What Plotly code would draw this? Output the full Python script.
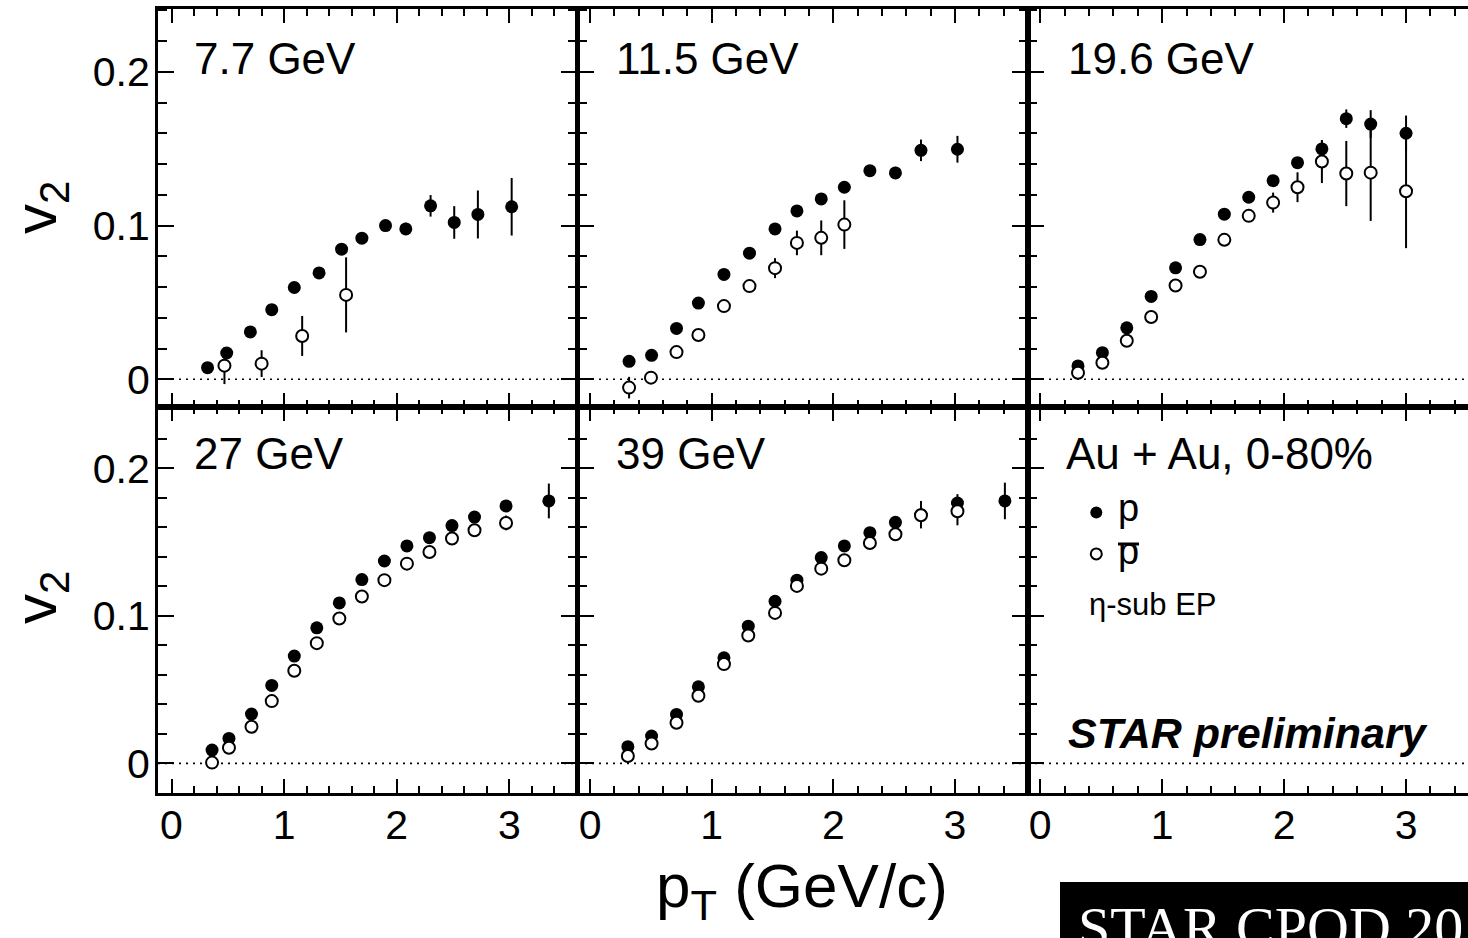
import plotly.graph_objects as go

W, H = 1468, 938
FONT = "Liberation Sans, Arial, Helvetica, sans-serif"

# ---- proton / antiproton v2(pT), Au+Au 0-80%, eta-sub event plane ----
panel_labels = ["7.7 GeV", "11.5 GeV", "19.6 GeV", "27 GeV", "39 GeV"]

pt_p_7 = [0.32, 0.49, 0.70, 0.89, 1.09, 1.31, 1.51, 1.69, 1.90, 2.08, 2.30, 2.51, 2.72, 3.02]
v2_p_7 = [0.0076, 0.0171, 0.0308, 0.0453, 0.0597, 0.0692, 0.0846, 0.0918, 0.1000, 0.0978, 0.1128, 0.1020, 0.1072, 0.1122]
er_p_7 = [0.002, 0.002, 0.002, 0.002, 0.002, 0.002, 0.002, 0.002, 0.003, 0.004, 0.007, 0.0106, 0.0156, 0.0187]
pt_pbar_7 = [0.47, 0.80, 1.16, 1.55]
v2_pbar_7 = [0.0089, 0.0102, 0.0282, 0.0549]
er_pbar_7 = [0.012, 0.0087, 0.013, 0.0244]

pt_p_11 = [0.32, 0.505, 0.71, 0.89, 1.10, 1.31, 1.52, 1.70, 1.90, 2.09, 2.30, 2.51, 2.72, 3.02]
v2_p_11 = [0.0117, 0.0156, 0.0331, 0.0496, 0.0682, 0.0820, 0.0978, 0.1095, 0.1173, 0.1249, 0.1357, 0.1342, 0.1489, 0.1496]
er_p_11 = [0.002, 0.002, 0.002, 0.002, 0.002, 0.002, 0.002, 0.002, 0.002, 0.003, 0.003, 0.004, 0.007, 0.0087]
pt_pbar_11 = [0.32, 0.50, 0.71, 0.89, 1.10, 1.31, 1.52, 1.70, 1.90, 2.09]
v2_pbar_11 = [-0.0054, 0.0011, 0.0177, 0.0288, 0.0476, 0.0606, 0.0723, 0.0887, 0.0920, 0.1006]
er_pbar_11 = [0.007, 0.003, 0.003, 0.003, 0.003, 0.003, 0.0065, 0.008, 0.0113, 0.0158]

pt_p_19 = [0.31, 0.51, 0.71, 0.91, 1.11, 1.31, 1.51, 1.71, 1.91, 2.11, 2.31, 2.51, 2.71, 3.00]
v2_p_19 = [0.0087, 0.0173, 0.0335, 0.0539, 0.0725, 0.0909, 0.1074, 0.1184, 0.1292, 0.1409, 0.1498, 0.1695, 0.1660, 0.1600]
er_p_19 = [0.002, 0.002, 0.002, 0.002, 0.002, 0.002, 0.002, 0.002, 0.002, 0.003, 0.0056, 0.006, 0.009, 0.0115]
pt_pbar_19 = [0.31, 0.51, 0.71, 0.91, 1.11, 1.31, 1.51, 1.71, 1.91, 2.11, 2.31, 2.51, 2.71, 3.00]
v2_pbar_19 = [0.0043, 0.0108, 0.0251, 0.0405, 0.0610, 0.0699, 0.0907, 0.1063, 0.1149, 0.1249, 0.1416, 0.1338, 0.1344, 0.1223]
er_pbar_19 = [0.002, 0.002, 0.002, 0.002, 0.002, 0.002, 0.002, 0.003, 0.0065, 0.0097, 0.014, 0.0212, 0.0314, 0.037]

pt_p_27 = [0.36, 0.51, 0.71, 0.89, 1.09, 1.29, 1.49, 1.69, 1.89, 2.09, 2.29, 2.49, 2.69, 2.97, 3.35]
v2_p_27 = [0.0090, 0.0169, 0.0334, 0.0528, 0.0727, 0.0919, 0.1088, 0.1246, 0.1372, 0.1474, 0.1530, 0.1612, 0.1670, 0.1745, 0.1779]
er_p_27 = [0.002, 0.002, 0.002, 0.002, 0.002, 0.002, 0.002, 0.002, 0.002, 0.002, 0.002, 0.002, 0.003, 0.003, 0.0118]
pt_pbar_27 = [0.36, 0.51, 0.71, 0.89, 1.09, 1.29, 1.49, 1.69, 1.89, 2.09, 2.29, 2.49, 2.69, 2.97]
v2_pbar_27 = [0.0005, 0.0106, 0.0248, 0.0422, 0.0628, 0.0815, 0.0982, 0.1131, 0.1242, 0.1354, 0.1433, 0.1524, 0.1580, 0.1630]
er_pbar_27 = [0.002, 0.002, 0.002, 0.002, 0.002, 0.002, 0.002, 0.002, 0.002, 0.002, 0.002, 0.003, 0.003, 0.005]

pt_p_39 = [0.31, 0.505, 0.71, 0.89, 1.10, 1.30, 1.52, 1.70, 1.90, 2.09, 2.30, 2.51, 2.72, 3.02, 3.41]
v2_p_39 = [0.0113, 0.0185, 0.0332, 0.0519, 0.0716, 0.0930, 0.1099, 0.1242, 0.1395, 0.1474, 0.1564, 0.1634, 0.1686, 0.1765, 0.1779]
er_p_39 = [0.002, 0.002, 0.002, 0.002, 0.002, 0.002, 0.002, 0.002, 0.002, 0.002, 0.003, 0.003, 0.0093, 0.006, 0.0124]
pt_pbar_39 = [0.31, 0.505, 0.71, 0.89, 1.10, 1.30, 1.52, 1.70, 1.90, 2.09, 2.30, 2.51, 2.72, 3.02]
v2_pbar_39 = [0.0050, 0.0135, 0.0275, 0.0458, 0.0673, 0.0867, 0.1020, 0.1203, 0.1320, 0.1377, 0.1494, 0.1553, 0.1682, 0.1709]
er_pbar_39 = [0.002, 0.002, 0.002, 0.002, 0.002, 0.002, 0.002, 0.002, 0.002, 0.002, 0.002, 0.003, 0.006, 0.0095]

x_ticks = [0, 1, 2, 3]
y_ticks = [0, 0.1, 0.2]
y_tick_text = ["0", "0.1", "0.2"]

datasets = [
    (pt_p_7, v2_p_7, er_p_7, pt_pbar_7, v2_pbar_7, er_pbar_7),
    (pt_p_11, v2_p_11, er_p_11, pt_pbar_11, v2_pbar_11, er_pbar_11),
    (pt_p_19, v2_p_19, er_p_19, pt_pbar_19, v2_pbar_19, er_pbar_19),
    (pt_p_27, v2_p_27, er_p_27, pt_pbar_27, v2_pbar_27, er_pbar_27),
    (pt_p_39, v2_p_39, er_p_39, pt_pbar_39, v2_pbar_39, er_pbar_39),
]

# ---- pad geometry (pixels) ----
col_px = [(158, 577), (578, 1028), (1028, 1468)]
row_px = [(9, 407), (407, 793)]
x_ranges = [[-0.12, 3.6], [-0.1, 3.6], [-0.1, 3.508]]
y_ranges = [[-0.018, 0.2408], [-0.0201, 0.2416]]


def px_x(p):
    return p / W


def px_y(p):
    return 1 - p / H


fig = go.Figure()
layout = dict(
    width=W, height=H,
    margin=dict(l=0, r=0, t=0, b=0),
    paper_bgcolor="white", plot_bgcolor="white",
    showlegend=False,
    font=dict(family=FONT, color="black"),
)

shapes = []
annotations = []

for k in range(6):
    r, c = divmod(k, 3)
    n = k + 1
    xa = "xaxis" if n == 1 else f"xaxis{n}"
    ya = "yaxis" if n == 1 else f"yaxis{n}"
    xref = "x" if n == 1 else f"x{n}"
    yref = "y" if n == 1 else f"y{n}"

    layout[xa] = dict(
        domain=[px_x(col_px[c][0]), px_x(col_px[c][1])],
        range=x_ranges[c], anchor=yref,
        showline=True, linewidth=3, linecolor="black", mirror="allticks",
        ticks="inside", ticklen=14, tickwidth=2, tickcolor="black",
        tickmode="array", tickvals=x_ticks, ticktext=[str(v) for v in x_ticks],
        showticklabels=(r == 1), tickfont=dict(size=41, family=FONT, color="black"),
        ticklabelstandoff=-6,
        minor=dict(ticks="inside", ticklen=7, tickwidth=2, tickcolor="black", dtick=0.2, tick0=0, showgrid=False),
        showgrid=False, zeroline=False, fixedrange=True,
    )
    layout[ya] = dict(
        domain=[px_y(row_px[r][1]), px_y(row_px[r][0])],
        range=y_ranges[r], anchor=xref,
        showline=True, linewidth=3, linecolor="black",
        mirror=("allticks" if c < 2 else False),
        ticks="inside", ticklen=16, tickwidth=2, tickcolor="black",
        tickmode="array", tickvals=y_ticks, ticktext=y_tick_text,
        showticklabels=(c == 0), tickfont=dict(size=41, family=FONT, color="black"),
        ticklabelstandoff=-3,
        minor=dict(ticks="inside", ticklen=9, tickwidth=2, tickcolor="black", dtick=0.02, tick0=0, showgrid=False),
        showgrid=False, zeroline=False, fixedrange=True,
    )

    # dotted zero reference line
    shapes.append(dict(
        type="line", xref=f"{xref} domain", yref=yref, x0=0, x1=1, y0=0, y1=0,
        line=dict(color="black", width=1.6, dash="2px,5px"), layer="below",
    ))

    if k < 5:
        pt_p, v2_p, er_p, pt_a, v2_a, er_a = datasets[k]
        fig.add_trace(go.Scatter(
            x=pt_p, y=v2_p, mode="markers", xaxis=xref, yaxis=yref,
            marker=dict(symbol="circle", size=13, color="black"),
            error_y=dict(type="data", array=er_p, visible=True, thickness=2, width=0, color="black"),
            cliponaxis=False,
        ))
        fig.add_trace(go.Scatter(
            x=pt_a, y=v2_a, mode="markers", xaxis=xref, yaxis=yref,
            marker=dict(symbol="circle", size=12, color="white", line=dict(color="black", width=2)),
            error_y=dict(type="data", array=er_a, visible=True, thickness=2, width=0, color="black"),
            cliponaxis=False,
        ))
        lx = [192, 614, 1066, 192, 614][k]
        ly = [58, 58, 58, 453, 453][k]
        annotations.append(dict(
            text=panel_labels[k], xref="paper", yref="paper", x=px_x(lx), y=px_y(ly),
            xanchor="left", yanchor="middle", showarrow=False,
            font=dict(size=44, family=FONT, color="black"),
        ))

# legend pad: collision system, marker key and method
annotations += [
    dict(text="Au + Au, 0-80%", xref="paper", yref="paper", x=px_x(1064), y=px_y(453),
         xanchor="left", yanchor="middle", showarrow=False, font=dict(size=44, family=FONT)),
    dict(text="p", xref="paper", yref="paper", x=px_x(1116), y=px_y(508),
         xanchor="left", yanchor="middle", showarrow=False, font=dict(size=38, family=FONT)),
    dict(text="p", xref="paper", yref="paper", x=px_x(1116), y=px_y(551),
         xanchor="left", yanchor="middle", showarrow=False, font=dict(size=38, family=FONT)),
    dict(text="η-sub EP", xref="paper", yref="paper", x=px_x(1087), y=px_y(604),
         xanchor="left", yanchor="middle", showarrow=False, font=dict(size=31, family=FONT)),
    dict(text="<b><i>STAR preliminary</i></b>", xref="paper", yref="paper", x=px_x(1066), y=px_y(733),
         xanchor="left", yanchor="middle", showarrow=False, font=dict(size=43, family=FONT)),
    # axis titles
    dict(text="v<sub>2</sub>", xref="paper", yref="paper", x=px_x(40), y=px_y(208),
         xanchor="center", yanchor="middle", textangle=-90, showarrow=False, font=dict(size=60, family=FONT)),
    dict(text="v<sub>2</sub>", xref="paper", yref="paper", x=px_x(40), y=px_y(598),
         xanchor="center", yanchor="middle", textangle=-90, showarrow=False, font=dict(size=60, family=FONT)),
    dict(text="p<sub>T</sub> (GeV/c)", xref="paper", yref="paper", x=px_x(802), y=px_y(890),
         xanchor="center", yanchor="middle", showarrow=False, font=dict(size=62, family=FONT)),
    # conference banner
    dict(text="STAR CPOD 2011", xref="paper", yref="paper", x=px_x(1076), y=px_y(927),
         xanchor="left", yanchor="middle", showarrow=False,
         font=dict(size=58, family="Liberation Serif, Times New Roman, serif", color="white")),
]

# legend markers drawn in the empty pad's own coordinates
fig.add_trace(go.Scatter(
    x=[0.46], y=[0.170], mode="markers", xaxis="x6", yaxis="y6",
    marker=dict(symbol="circle", size=12, color="black"), cliponaxis=False,
))
fig.add_trace(go.Scatter(
    x=[0.46], y=[0.142], mode="markers", xaxis="x6", yaxis="y6",
    marker=dict(symbol="circle", size=11, color="white", line=dict(color="black", width=2)), cliponaxis=False,
))

# bar over the antiproton symbol
shapes.append(dict(type="line", xref="paper", yref="paper",
                   x0=px_x(1118), x1=px_x(1139), y0=px_y(544), y1=px_y(544),
                   line=dict(color="black", width=3)))
# banner background
shapes.append(dict(type="rect", xref="paper", yref="paper",
                   x0=px_x(1060), x1=1.0, y0=0.0, y1=px_y(882),
                   fillcolor="black", line=dict(width=0), layer="below"))

layout["shapes"] = shapes
layout["annotations"] = annotations
fig.update_layout(**layout)

fig.write_html("out.html", config={"displayModeBar": False})
